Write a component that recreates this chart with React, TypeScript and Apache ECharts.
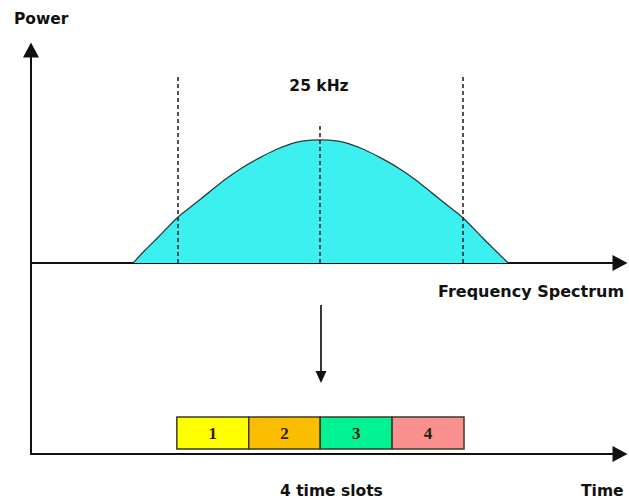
import React, { useEffect, useRef } from "react";
import * as echarts from "echarts";

// Spectrum (frequency offset from carrier, kHz) vs relative power
const freqKHz = [-16.4, -15.4, -14.2, -12.5, -11.3, -9.8, -8.3, -6.9, -5.4, -3.9, -2.5, -1.6, 0, 1.6, 2.5, 3.9, 5.4, 6.9, 8.3, 9.8, 11.3, 12.5, 14.2, 15.4, 16.5];
const power = [0, 1.0, 2.1, 3.7, 4.6, 5.7, 6.8, 7.7, 8.5, 9.2, 9.7, 9.9, 10, 9.9, 9.7, 9.2, 8.5, 7.7, 6.8, 5.7, 4.6, 3.7, 2.1, 1.0, 0];

// Channel edges (25 kHz channel) and centre marker: [freq, top of dashed line]
const channelMarkers = [
  [-12.5, 15.3],
  [0, 11.4],
  [12.5, 15.3],
];

// Time slots (ms)
const slotLabels = ["1", "2", "3", "4"];
const slotStart = [28.8, 43.0, 57.1, 71.3];
const slotEnd = [43.0, 57.1, 71.3, 85.5];
const slotColors = ["#FFFF00", "#FBBD00", "#00F291", "#FA9191"];

const LABEL_FONT = 'bold 15.5px "DejaVu Sans"';

export default function App() {
  const ref = useRef<HTMLDivElement>(null);

  useEffect(() => {
    if (!ref.current) return;
    const chart = echarts.init(ref.current, null, { renderer: "svg" });

    const axisLine = (onZero: boolean) => ({
      show: true,
      onZero,
      symbol: ["none", "triangle"],
      symbolSize: [16, 15],
      lineStyle: { color: "#111", width: 2 },
    });

    const option: any = {
      animation: false,
      backgroundColor: "#ffffff",
      grid: [
        { left: 31, right: 9, top: 50, bottom: 45 },
        { left: 31, right: 9, top: 300, bottom: 45 },
      ],
      xAxis: [
        {
          type: "value",
          gridIndex: 0,
          min: -25.35,
          max: 26.3,
          axisLine: axisLine(true),
          axisTick: { show: false },
          axisLabel: { show: false },
          splitLine: { show: false },
        },
        {
          type: "value",
          gridIndex: 1,
          min: 0,
          max: 116.3,
          axisLine: axisLine(false),
          axisTick: { show: false },
          axisLabel: { show: false },
          splitLine: { show: false },
        },
      ],
      yAxis: [
        {
          type: "value",
          gridIndex: 0,
          min: -15.5,
          max: 17.3,
          axisLine: axisLine(false),
          axisTick: { show: false },
          axisLabel: { show: false },
          splitLine: { show: false },
        },
        {
          type: "value",
          gridIndex: 1,
          min: 0,
          max: 10,
          show: false,
        },
      ],
      series: [
        {
          type: "line",
          xAxisIndex: 0,
          yAxisIndex: 0,
          data: freqKHz.map((f, i) => [f, power[i]]),
          smooth: 0.3,
          symbol: "none",
          lineStyle: { color: "#2a3a3a", width: 1.3 },
          areaStyle: { color: "#3CF0F0", opacity: 1 },
          z: 2,
          markLine: {
            silent: true,
            symbol: "none",
            label: { show: false },
            lineStyle: { color: "#2a2a2a", width: 1.6, type: [4, 3] },
            data: channelMarkers.map((m) => [
              { coord: [m[0], 0] },
              { coord: [m[0], m[1]] },
            ]),
          },
        },
        {
          type: "custom",
          xAxisIndex: 1,
          yAxisIndex: 1,
          data: slotLabels.map((l, i) => [slotStart[i], slotEnd[i], l]),
          encode: { x: [0, 1] },
          renderItem: (params: any, api: any) => {
            const s = api.coord([api.value(0), 0]);
            const e = api.coord([api.value(1), 0]);
            const i = params.dataIndex;
            return {
              type: "group",
              children: [
                {
                  type: "rect",
                  shape: { x: s[0], y: s[1] - 37, width: e[0] - s[0], height: 32 },
                  style: { fill: slotColors[i], stroke: "#3a3a2a", lineWidth: 1.5 },
                },
                {
                  type: "text",
                  style: {
                    text: slotLabels[i],
                    x: (s[0] + e[0]) / 2,
                    y: s[1] - 21,
                    align: "center",
                    verticalAlign: "middle",
                    font: 'bold 17px "Liberation Serif"',
                    fill: "#2a1d0a",
                  },
                },
              ],
            };
          },
        },
      ],
      graphic: [
        {
          type: "text",
          style: { text: "Power", x: 14, y: 18.5, align: "left", verticalAlign: "middle", font: LABEL_FONT, fill: "#111" },
        },
        {
          type: "text",
          style: { text: "25 kHz", x: 319, y: 85.5, align: "center", verticalAlign: "middle", font: LABEL_FONT, fill: "#111" },
        },
        {
          type: "text",
          style: { text: "Frequency Spectrum", x: 438, y: 291.5, align: "left", verticalAlign: "middle", font: 'bold 16px "DejaVu Sans"', fill: "#111" },
        },
        {
          type: "text",
          style: { text: "4 time slots", x: 280, y: 490.5, align: "left", verticalAlign: "middle", font: LABEL_FONT, fill: "#111" },
        },
        {
          type: "text",
          style: { text: "Time", x: 581, y: 490.5, align: "left", verticalAlign: "middle", font: LABEL_FONT, fill: "#111" },
        },
        {
          type: "line",
          shape: { x1: 321, y1: 305, x2: 321, y2: 373 },
          style: { stroke: "#222", lineWidth: 1.8 },
        },
        {
          type: "polygon",
          shape: { points: [[315.5, 371], [326.5, 371], [321, 383]] },
          style: { fill: "#111" },
        },
      ],
    };

    chart.setOption(option);
    return () => chart.dispose();
  }, []);

  return (
    <div
      ref={ref}
      style={{ position: "fixed", left: 0, top: 0, width: 629, height: 499, background: "#fff" }}
    />
  );
}
